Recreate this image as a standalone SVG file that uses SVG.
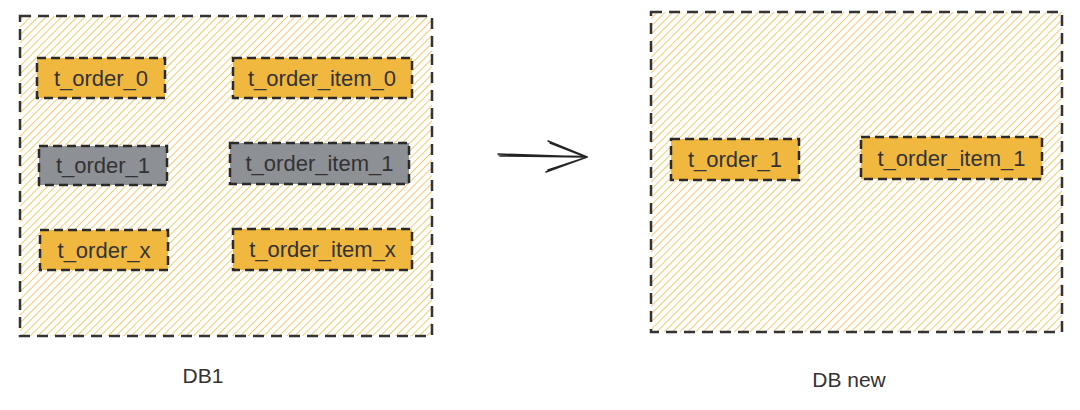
<svg xmlns="http://www.w3.org/2000/svg" width="1080" height="410" viewBox="0 0 1080 410">
<defs>
<pattern id="hatch" width="5.5" height="5.5" patternUnits="userSpaceOnUse" patternTransform="rotate(45)">
<line x1="0" y1="0" x2="0" y2="5.5" stroke="#f2c86a" stroke-width="1.9"/>
</pattern>
<style>
.db{fill:url(#hatch);stroke:#333;stroke-width:2.5;stroke-dasharray:11 7}
.y{fill:#f0b83f;stroke:#2a2a2a;stroke-width:2.5;stroke-dasharray:9 5}
.g{fill:#8d9095;stroke:#2a2a2a;stroke-width:2.5;stroke-dasharray:9 5}
.t{font-family:"Liberation Sans",Arial,sans-serif;font-size:22px;fill:#333;text-anchor:middle}
.lbl{font-family:"Liberation Sans",Arial,sans-serif;font-size:21px;fill:#333;text-anchor:middle}
.arr{stroke:#222;stroke-width:1.5;fill:none;stroke-linecap:round}
</style>
</defs>
<rect width="1080" height="410" fill="#fff"/>
<g id="db1">
<rect class="db" x="20" y="16" width="412" height="320"/>
<text class="lbl" x="203" y="383">DB1</text>
</g>
<g id="dbnew">
<rect class="db" x="651" y="12" width="411" height="320"/>
<text class="lbl" x="849" y="387">DB new</text>
</g>
<g id="t_order_0"><rect class="y" x="37" y="58" width="128" height="40"/><text class="t" x="101" y="86">t_order_0</text></g>
<g id="t_order_item_0"><rect class="y" x="233" y="58" width="179" height="40"/><text class="t" x="322" y="86">t_order_item_0</text></g>
<g id="t_order_1"><rect class="g" x="39" y="146" width="128" height="39"/><text class="t" x="103" y="173">t_order_1</text></g>
<g id="t_order_item_1"><rect class="g" x="230" y="143" width="179" height="41"/><text class="t" x="319.500" y="171">t_order_item_1</text></g>
<g id="t_order_x"><rect class="y" x="40" y="230" width="128" height="40"/><text class="t" x="104" y="258">t_order_x</text></g>
<g id="t_order_item_x"><rect class="y" x="233" y="229" width="179" height="41"/><text class="t" x="322.500" y="257">t_order_item_x</text></g>
<g id="new_t_order_1"><rect class="y" x="671" y="139" width="128" height="41"/><text class="t" x="735" y="167">t_order_1</text></g>
<g id="new_t_order_item_1"><rect class="y" x="861" y="137" width="181" height="42"/><text class="t" x="951.500" y="166">t_order_item_1</text></g>
<g id="connectors">
<path class="arr" d="M498 154 L587 157 M500 156 L586 157 M499 155 L585 156.500"/>
<path class="arr" d="M548 141 L587 157 M550 143 L586 157 M546 172 L587 157 M548 170 L586 157.500"/>
</g>
</svg>
